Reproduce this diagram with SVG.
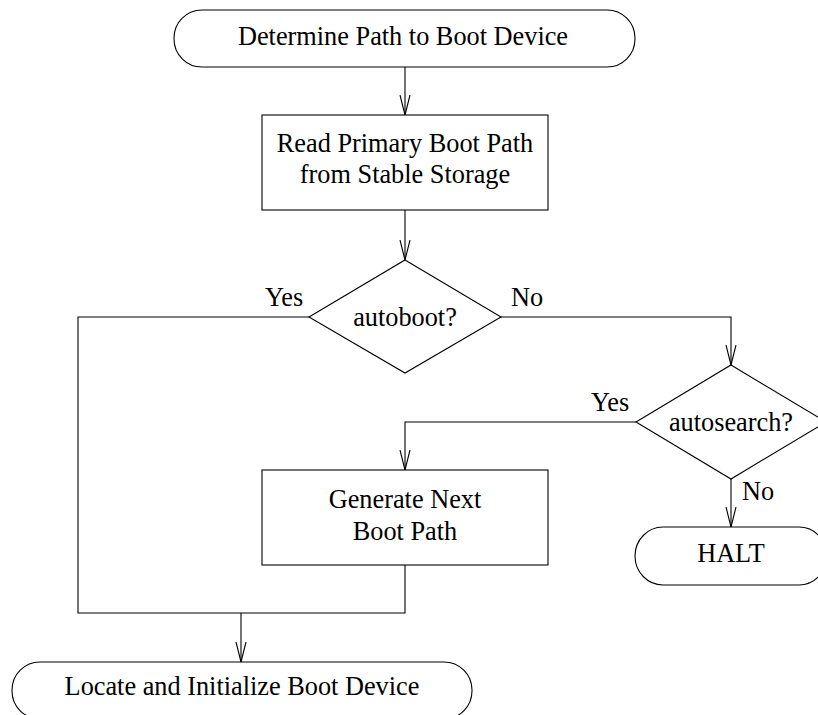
<svg xmlns="http://www.w3.org/2000/svg" width="818" height="715" viewBox="0 0 818 715">
<style>
.s{fill:#fff;stroke:#000;stroke-width:1.1}
.c{fill:none;stroke:#000;stroke-width:1.1}
text{font-family:"Liberation Serif","Times New Roman",serif;font-size:26.3px;fill:#000}
.m{text-anchor:middle}
</style>
<defs>
<marker id="v" markerWidth="24" markerHeight="14" refX="20" refY="6" orient="auto" markerUnits="userSpaceOnUse" viewBox="0 0 24 12">
<path d="M0,1 L20,6 L0,11" fill="none" stroke="#000" stroke-width="1.1"/>
</marker>
</defs>
<rect width="818" height="715" fill="#fff"/>
<g id="connectors">
<path class="c" d="M405,67 V115" marker-end="url(#v)"/>
<path class="c" d="M405,210 V260" marker-end="url(#v)"/>
<path class="c" d="M309,317 H78 V613 H405 V565"/>
<path class="c" d="M241,613 V662" marker-end="url(#v)"/>
<path class="c" d="M501,317 H731 V365" marker-end="url(#v)"/>
<path class="c" d="M636,422 H405 V470" marker-end="url(#v)"/>
<path class="c" d="M731,479 V527" marker-end="url(#v)"/>
<text x="265" y="306">Yes</text>
<text x="511" y="306">No</text>
<text x="591" y="411">Yes</text>
<text x="742" y="500">No</text>
</g>
<g id="start">
<rect class="s" x="174" y="10" width="461" height="57" rx="28" ry="28"/>
<text class="m" x="403" y="45">Determine Path to Boot Device</text>
</g>
<g id="read">
<rect class="s" x="262" y="115" width="286" height="95"/>
<text class="m" x="405" y="152">Read Primary Boot Path</text>
<text class="m" x="405" y="183">from Stable Storage</text>
</g>
<g id="autoboot">
<polygon class="s" points="405,260 501,317 405,373 309,317"/>
<text class="m" x="405" y="326">autoboot?</text>
</g>
<g id="autosearch">
<polygon class="s" points="731,365 826,422 731,479 636,422"/>
<text class="m" x="731" y="431">autosearch?</text>
</g>
<g id="generate">
<rect class="s" x="262" y="470" width="286" height="95"/>
<text class="m" x="405" y="508">Generate Next</text>
<text class="m" x="405" y="540">Boot Path</text>
</g>
<g id="halt">
<rect class="s" x="635" y="527" width="192" height="58" rx="28" ry="29"/>
<text class="m" x="731" y="562">HALT</text>
</g>
<g id="locate">
<rect class="s" x="12" y="662" width="460" height="57" rx="28" ry="28"/>
<text class="m" x="242" y="695">Locate and Initialize Boot Device</text>
</g>
</svg>
